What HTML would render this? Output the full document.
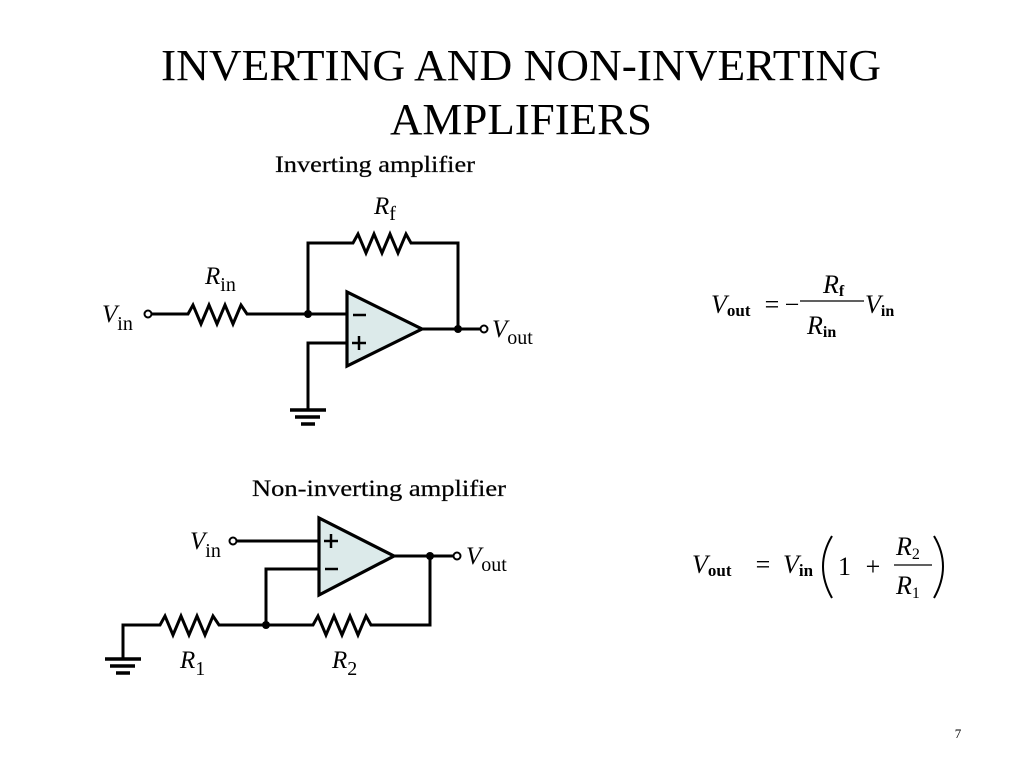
<!DOCTYPE html>
<html><head><meta charset="utf-8"><style>
body{margin:0;background:#fff;}
svg{display:block}
text{font-family:"Liberation Serif",serif;fill:#000}
</style></head><body>
<svg width="1024" height="768" viewBox="0 0 1024 768" xmlns="http://www.w3.org/2000/svg">
<text x="161" y="80" font-size="44" textLength="720" lengthAdjust="spacingAndGlyphs">INVERTING AND NON-INVERTING</text>
<text x="390" y="134" font-size="44" textLength="262" lengthAdjust="spacingAndGlyphs">AMPLIFIERS</text>

<!-- Inverting -->
<text x="275" y="172" font-size="23" textLength="200" lengthAdjust="spacingAndGlyphs" fill="#222" stroke="#222" stroke-width="0.3">Inverting amplifier</text>
<g stroke="#000" stroke-width="3" fill="none" stroke-linejoin="miter">
<polyline points="308,314 308,243 353,243 358,234 366,253 374,234 382,253 390,234 398,253 406,234 411,243 458,243 458,329"/>
<polyline points="152,314 188,314 193,305 201,324 209,305 217,324 225,305 233,324 241,305 247,314 347,314"/>
<polygon points="347,292 347,366 422,329" fill="#dceaea" stroke-width="3.2"/>
<polyline points="422,329 480,329"/>
<polyline points="347,343 308,343 308,410"/>
<line x1="290" y1="410" x2="326" y2="410" stroke-width="3.5"/>
<line x1="295" y1="417" x2="320" y2="417" stroke-width="3.5"/>
<line x1="301" y1="424" x2="315" y2="424" stroke-width="3.5"/>
<circle cx="148" cy="314" r="3.5" fill="#fff" stroke-width="2"/>
<circle cx="484" cy="329" r="3.5" fill="#fff" stroke-width="2"/>
<line x1="353" y1="315" x2="366" y2="315" stroke-width="2.5"/>
<line x1="352" y1="343" x2="366" y2="343" stroke-width="2.5"/>
<line x1="359" y1="336" x2="359" y2="350" stroke-width="2.5"/>
</g>
<circle cx="308" cy="314" r="4" fill="#000"/>
<circle cx="458" cy="329" r="4" fill="#000"/>
<text x="374" y="214" font-size="25"><tspan font-style="italic">R</tspan><tspan font-size="20" dy="6">f</tspan></text>
<text x="205" y="284" font-size="25"><tspan font-style="italic">R</tspan><tspan font-size="20" dy="7">in</tspan></text>
<text x="102" y="322" font-size="25"><tspan font-style="italic">V</tspan><tspan font-size="20" dy="8">in</tspan></text>
<text x="492" y="337" font-size="25"><tspan font-style="italic">V</tspan><tspan font-size="20" dy="7">out</tspan></text>

<!-- Non-inverting -->
<text x="252" y="496" font-size="23" textLength="254" lengthAdjust="spacingAndGlyphs" fill="#222" stroke="#222" stroke-width="0.3">Non-inverting amplifier</text>
<g stroke="#000" stroke-width="3" fill="none">
<polyline points="237,541 319,541"/>
<polygon points="319,518 319,595 394,556" fill="#dceaea" stroke-width="3.2"/>
<polyline points="394,556 453,556"/>
<polyline points="319,569 266,569 266,625"/>
<polyline points="123,659 123,625 160,625 165,616 173,635 181,616 189,635 197,616 205,635 213,616 219,625 313,625 318,616 326,635 334,616 342,635 350,616 358,635 366,616 371,625 430,625 430,556"/>
<line x1="105" y1="659" x2="141" y2="659" stroke-width="3.5"/>
<line x1="110" y1="666" x2="135" y2="666" stroke-width="3.5"/>
<line x1="116" y1="673" x2="130" y2="673" stroke-width="3.5"/>
<circle cx="233" cy="541" r="3.5" fill="#fff" stroke-width="2"/>
<circle cx="457" cy="556" r="3.5" fill="#fff" stroke-width="2"/>
<line x1="324" y1="541" x2="338" y2="541" stroke-width="2.5"/>
<line x1="331" y1="534" x2="331" y2="548" stroke-width="2.5"/>
<line x1="325" y1="569" x2="338" y2="569" stroke-width="2.5"/>
</g>
<circle cx="266" cy="625" r="4" fill="#000"/>
<circle cx="430" cy="556" r="4" fill="#000"/>
<text x="190" y="549" font-size="25"><tspan font-style="italic">V</tspan><tspan font-size="20" dy="8">in</tspan></text>
<text x="466" y="564" font-size="25"><tspan font-style="italic">V</tspan><tspan font-size="20" dy="7">out</tspan></text>
<text x="180" y="668" font-size="25"><tspan font-style="italic">R</tspan><tspan font-size="20" dy="7">1</tspan></text>
<text x="332" y="668" font-size="25"><tspan font-style="italic">R</tspan><tspan font-size="20" dy="7">2</tspan></text>

<!-- Formula 1 -->
<text x="711" y="313" font-size="26"><tspan font-style="italic">V</tspan><tspan font-size="17" font-weight="bold" dy="3">out</tspan></text>
<text x="772" y="313" font-size="26" text-anchor="middle">=</text>
<text x="792" y="313" font-size="26" text-anchor="middle">−</text>
<line x1="800" y1="301" x2="864" y2="301" stroke="#000" stroke-width="1.2"/>
<text x="823" y="293" font-size="26"><tspan font-style="italic">R</tspan><tspan font-size="16" font-weight="bold" dy="3">f</tspan></text>
<text x="807" y="334" font-size="26"><tspan font-style="italic">R</tspan><tspan font-size="16" font-weight="bold" dy="3">in</tspan></text>
<text x="865" y="313" font-size="26"><tspan font-style="italic">V</tspan><tspan font-size="16" font-weight="bold" dy="3">in</tspan></text>

<!-- Formula 2 -->
<text x="692" y="573" font-size="26"><tspan font-style="italic">V</tspan><tspan font-size="17" font-weight="bold" dy="3">out</tspan></text>
<text x="763" y="573" font-size="26" text-anchor="middle">=</text>
<text x="783" y="573" font-size="26"><tspan font-style="italic">V</tspan><tspan font-size="17" font-weight="bold" dy="3">in</tspan></text>
<path d="M832,536 Q814,566 832,598" stroke="#000" stroke-width="2" fill="none"/>
<text x="838" y="575" font-size="26">1</text>
<text x="873" y="575" font-size="26" text-anchor="middle">+</text>
<line x1="894" y1="565" x2="932" y2="565" stroke="#000" stroke-width="1.2"/>
<text x="896" y="555" font-size="26"><tspan font-style="italic">R</tspan><tspan font-size="16" dy="4">2</tspan></text>
<text x="896" y="594" font-size="26"><tspan font-style="italic">R</tspan><tspan font-size="16" dy="4">1</tspan></text>
<path d="M934,536 Q952,566 934,598" stroke="#000" stroke-width="2" fill="none"/>

<text x="958" y="738" font-size="13" text-anchor="middle" font-family="Liberation Sans, sans-serif" fill="#555">7</text>
</svg>
</body></html>
